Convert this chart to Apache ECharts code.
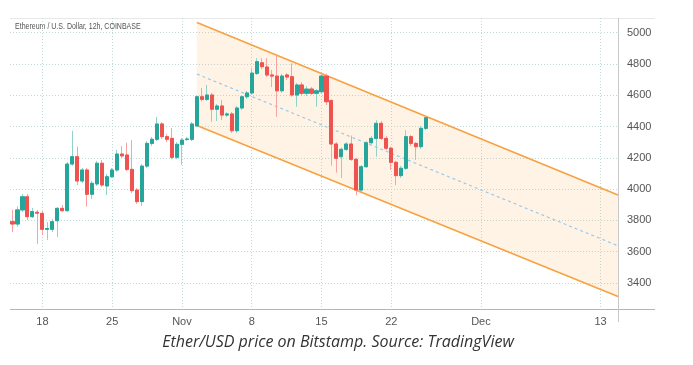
<!DOCTYPE html>
<html><head><meta charset="utf-8">
<script src="https://cdn.jsdelivr.net/npm/echarts@6/dist/echarts.min.js"></script>
<style>html,body{margin:0;padding:0;background:#fff}#c{width:693px;height:365px}</style>
</head><body><div id="c"></div>
<script>
// ---- data ----
const slotCount = 122; // 12h slots from 2021-10-15 00:00 to 2021-12-14 12:00
const tickSlots = [6, 20, 34, 48, 62, 76, 94, 118];
const tickLabels = ['18', '25', 'Nov', '8', '15', '22', 'Dec', '13'];
const yTicks = [3400, 3600, 3800, 4000, 4200, 4400, 4600, 4800, 5000];

const opens  = [3792,3777,3867,3951,3824,3852,3845,3743,3743,3798,3877,3862,4160,4207,4052,4122,3967,4033,4165,4020,4079,4122,4224,4218,4126,3994,3920,4147,4292,4318,4416,4335,4324,4203,4286,4318,4318,4403,4590,4573,4601,4510,4531,4473,4480,4373,4518,4590,4614,4739,4807,4780,4729,4722,4628,4729,4718,4601,4665,4612,4639,4612,4622,4722,4565,4288,4207,4254,4288,4190,3994,4143,4296,4324,4420,4324,4261,4171,4086,4133,4335,4292,4271,4388];
const closes = [3777,3867,3951,3824,3856,3846,3743,3748,3792,3877,3862,4160,4207,4052,4122,3967,4037,4165,4026,4079,4122,4224,4212,4126,3990,3920,4147,4292,4318,4416,4335,4318,4203,4286,4313,4320,4416,4590,4573,4601,4510,4531,4473,4480,4373,4518,4590,4614,4741,4814,4782,4729,4722,4628,4722,4716,4601,4665,4612,4639,4612,4628,4722,4558,4288,4197,4254,4288,4190,3994,4143,4296,4324,4420,4324,4261,4171,4086,4133,4335,4292,4271,4388,4456];
const lows   = [3726,3760,3855,3803,3815,3650,3707,3675,3726,3694,3855,3855,4150,4026,4039,3888,3937,4020,4013,3962,4071,4110,4200,4115,3975,3905,3892,4135,4276,4307,4320,4300,4190,4190,4154,4307,4307,4397,4560,4563,4430,4435,4441,4460,4358,4358,4505,4576,4601,4729,4767,4716,4652,4462,4614,4697,4590,4526,4594,4594,4601,4526,4610,4537,4150,4105,4071,4243,4180,3962,3981,4135,4286,4207,4313,4250,4122,4026,4071,4122,4275,4186,4256,4377];
const highs  = [3867,3890,3968,3968,3880,3867,3860,3790,3808,3885,3898,4173,4373,4271,4135,4135,4052,4180,4186,4097,4135,4250,4275,4296,4313,4007,4160,4307,4333,4462,4428,4352,4390,4300,4326,4333,4428,4601,4646,4665,4614,4544,4569,4492,4492,4531,4601,4627,4773,4837,4837,4837,4761,4856,4735,4741,4803,4678,4684,4658,4652,4639,4741,4739,4575,4300,4265,4300,4342,4200,4154,4307,4339,4441,4435,4339,4271,4180,4148,4377,4345,4300,4403,4473];

// parallel channel (slot position, price)
const channelX     = [37, 121.5];
const channelUpper = [5064, 3962];
const channelMid   = [4735, 3638];
const channelLower = [4406, 3314];

// ---- build ----
const categories = [];
const t0 = Date.UTC(2021, 9, 15);
for (let i = 0; i < slotCount; i++) {
  const d = new Date(t0 + i * 43200000).toISOString();
  categories.push(d.slice(0, 10) + ' ' + d.slice(11, 16));
}
const wickData = opens.map((o, i) => [o, closes[i], lows[i], highs[i]]);
const bodyData = opens.map((o, i) => [o, closes[i], Math.min(o, closes[i]), Math.max(o, closes[i])]);

const GREEN = '#26a69a', RED = '#ef5350';
const chart = echarts.init(document.getElementById('c'), null, {renderer: 'canvas'});
chart.setOption({
  animation: false,
  backgroundColor: '#fff',
  grid: {left: 10, right: 75, top: 18, bottom: 56},
  xAxis: [
    {type: 'category', data: categories, boundaryGap: true, show: false},
    {type: 'value', min: -0.5, max: 121.5, position: 'bottom',
     axisLine: {show: false},
     axisTick: {show: false, customValues: tickSlots},
     axisLabel: {customValues: tickSlots, color: '#555', fontSize: 11, margin: 7,
       fontFamily: 'Liberation Sans',
       formatter: v => tickLabels[tickSlots.indexOf(v)] || ''},
     splitLine: {show: true, lineStyle: {color: '#bfd8d8', type: [1, 2], width: 1}}}
  ],
  yAxis: {type: 'value', position: 'right', min: 3234, max: 5093, scale: true,
    axisLine: {show: false},
    axisTick: {show: false, customValues: yTicks},
    axisLabel: {customValues: yTicks, color: '#555', fontSize: 11, margin: 9, fontFamily: 'Liberation Sans',
      formatter: v => String(v)},
    splitLine: {show: true, lineStyle: {color: '#bfd8d8', type: [1, 2], width: 1}}},
  series: [
    {type: 'custom', xAxisIndex: 1, z: 1, silent: true, data: [0],
     renderItem: (params, api) => {
       const pts = [
         api.coord([channelX[0], channelUpper[0]]),
         api.coord([channelX[1], channelUpper[1]]),
         api.coord([channelX[1], channelLower[1]]),
         api.coord([channelX[0], channelLower[0]])
       ];
       return {type: 'polygon', shape: {points: pts}, style: {fill: 'rgba(255,160,60,0.13)'}};
     }},
    {type: 'line', xAxisIndex: 1, z: 2, symbol: 'none', silent: true,
     data: channelX.map((x, i) => [x, channelUpper[i]]),
     lineStyle: {color: '#f7a241', width: 1.6}},
    {type: 'line', xAxisIndex: 1, z: 2, symbol: 'none', silent: true,
     data: channelX.map((x, i) => [x, channelLower[i]]),
     lineStyle: {color: '#f7a241', width: 1.6}},
    {type: 'line', xAxisIndex: 1, z: 2, symbol: 'none', silent: true,
     data: channelX.map((x, i) => [x, channelMid[i]]),
     lineStyle: {color: '#9cc9e8', width: 1.2, type: [3, 3]}},
    {type: 'candlestick', xAxisIndex: 0, z: 3, barWidth: 3.6, data: wickData,
     itemStyle: {color: 'rgba(0,0,0,0)', color0: 'rgba(0,0,0,0)', borderColor: '#8fd3cb', borderColor0: '#f6a3a1', borderWidth: 1}},
    {type: 'candlestick', xAxisIndex: 0, z: 4, barWidth: 3.6, data: bodyData,
     itemStyle: {color: GREEN, color0: RED, borderColor: GREEN, borderColor0: RED, borderWidth: 1}}
  ],
  graphic: [
    {type: 'line', shape: {x1: 10, y1: 18.5, x2: 655, y2: 18.5}, style: {stroke: '#e8e8e8', lineWidth: 1}, silent: true},
    {type: 'line', shape: {x1: 10, y1: 309.5, x2: 655, y2: 309.5}, style: {stroke: '#b5b5b5', lineWidth: 1}, silent: true},
    {type: 'line', shape: {x1: 618.5, y1: 18, x2: 618.5, y2: 322}, style: {stroke: '#c8c8c8', lineWidth: 1}, silent: true},
    {type: 'text', x: 15, y: 27, scaleX: 0.78, style: {text: 'Ethereum / U.S. Dollar, 12h, COINBASE', font: '9px "Liberation Sans"', fill: '#555', textVerticalAlign: 'middle'}, silent: true},
    {type: 'text', x: 338, y: 342, style: {text: 'Ether/USD price on Bitstamp. Source: TradingView', font: 'italic 16px "Open Sans"', fill: '#333', textAlign: 'center', textVerticalAlign: 'middle'}, silent: true}
  ]
});
</script></body></html>
